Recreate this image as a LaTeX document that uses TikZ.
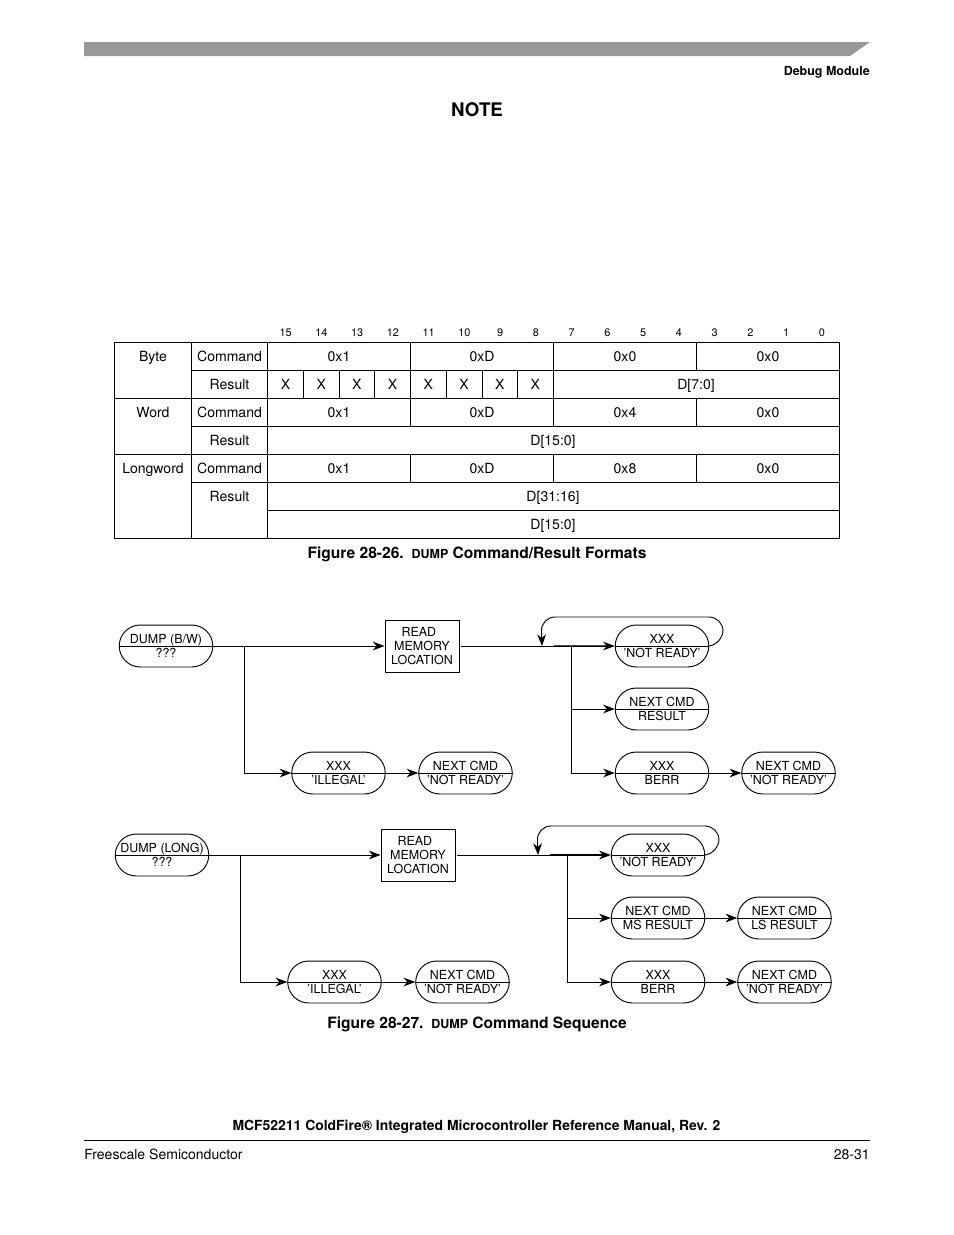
\documentclass[tikz,border=0pt]{standalone}
\usepackage{fontspec}
\setmainfont{TeX Gyre Heros}
\usetikzlibrary{arrows.meta,shapes.misc}
\tikzset{
  cell/.style={anchor=base,inner sep=0pt,font=\fontsize{9}{10.8}\selectfont},
  bitno/.style={anchor=base,inner sep=0pt,font=\fontsize{7}{8}\selectfont},
  rule/.style={line width=0.6pt,black},
  pill/.style={draw,line width=0.6pt,rounded rectangle,minimum width=60pt,minimum height=26.9pt,inner sep=0pt,align=center,font=\fontsize{8}{9.4}\selectfont},
  rbox/.style={draw,line width=0.6pt,minimum width=47.5pt,minimum height=33.4pt,inner sep=0pt,align=center,font=\fontsize{8}{9}\selectfont},
  flow/.style={line width=0.6pt,-{Stealth[length=7.5pt,width=5.6pt,inset=2.4pt]}},
  plain/.style={line width=0.6pt},
  thick2/.style={line width=1.1pt},
  capt/.style={anchor=base,inner sep=0pt,font=\fontsize{10}{12}\selectfont\bfseries},
}
\newcommand{\smdump}{{\fontsize{8}{9}\selectfont DUMP}}
\begin{document}
\begin{tikzpicture}[x=0.6415pt,y=-0.6415pt]
\useasboundingbox (0,0) rectangle (954,1235);
% header and footer
\fill[fill=black!40] (84,42) -- (870,42) -- (850,56) -- (84,56) -- cycle;
\node[anchor=base east,inner sep=0pt,font=\fontsize{8}{9}\selectfont\bfseries] (hdr) at (870,75) {Debug Module};
\node[anchor=base,inner sep=0pt,font=\fontsize{12}{14}\selectfont\bfseries] (note) at (477,116) {NOTE};
\node[anchor=base,inner sep=0pt,font=\fontsize{8.93}{11}\selectfont\bfseries] (title) at (476.5,1130) {MCF52211 ColdFire® Integrated Microcontroller Reference Manual, Rev. 2};
\draw[rule] (84,1140.5) -- (870,1140.5);
\node[anchor=base west,inner sep=0pt,font=\fontsize{9}{11}\selectfont] (fsl) at (84,1159) {Freescale Semiconductor};
\node[anchor=base east,inner sep=0pt,font=\fontsize{9}{11}\selectfont] (pg) at (870,1159) {28-31};
% bit numbers
\foreach \b [count=\i from 0] in {15,14,...,0}
  \node[bitno] (bit\b) at (285.7+35.74*\i,336) {\b};
% table rules
\draw[rule] (114,342) rectangle (839.5,538.5);
\draw[rule] (191.5,342) -- (191.5,538.5);
\draw[rule] (267.5,342) -- (267.5,538.5);
\draw[rule] (191.5,370.5) -- (839.5,370.5);
\draw[rule] (114,398.5) -- (839.5,398.5);
\draw[rule] (191.5,426.5) -- (839.5,426.5);
\draw[rule] (114,454.5) -- (839.5,454.5);
\draw[rule] (191.5,482.5) -- (839.5,482.5);
\draw[rule] (267.5,510.5) -- (839.5,510.5);
\foreach \y in {342,398.5,454.5}
  \foreach \x in {410.5,553.5,696.5}
    \draw[rule] (\x,\y) -- (\x,\y+28);
\foreach \x in {303.5,339.5,374.5,410.5,446.5,482,517.5,553.5}
  \draw[rule] (\x,370.5) -- (\x,398.5);
% table text
\node[cell] (tbyte) at (153,361) {Byte};
\node[cell] (tword) at (153,417) {Word};
\node[cell] (tlong) at (153,473) {Longword};
\foreach \y/\n in {361/a,417/b,473/c}
  \node[cell] (cmd\n) at (229.5,\y) {Command};
\foreach \y/\n in {389/a,445/b,501/c}
  \node[cell] (res\n) at (229.5,\y) {Result};
\foreach \y/\n/\v in {361/a/0,417/b/4,473/c/8}{
  \node[cell] (h1\n) at (339,\y) {0x1};
  \node[cell] (h2\n) at (482,\y) {0xD};
  \node[cell] (h3\n) at (625,\y) {0x\v};
  \node[cell] (h4\n) at (768,\y) {0x0};
}
\foreach \i in {0,...,7}
  \node[cell] (x\i) at (285.5+35.7*\i,389) {X};
\node[cell] (d70) at (696,389) {D[7:0]};
\node[cell] (d150a) at (553,445) {D[15:0]};
\node[cell] (d3116) at (553,501) {D[31:16]};
\node[cell] (d150b) at (553,529) {D[15:0]};
\node[capt] (cap1) at (477,558) {Figure 28-26.\enspace\smdump{} Command/Result Formats};
% top flow
\node[pill] (a1) at (166,646) {DUMP (B/W)\\???};
\node[rbox] (a2) at (422,646) {READ\,\,\,\\MEMORY\\LOCATION};
\node[pill] (a3) at (662,646) {XXX\\'NOT READY'};
\node[pill] (a4) at (662,709) {NEXT CMD\\RESULT};
\node[pill] (a5) at (662,773) {XXX\\BERR};
\node[pill] (a6) at (788.5,773) {NEXT CMD\\'NOT READY'};
\node[pill] (a7) at (338.5,773) {XXX\\'ILLEGAL'};
\node[pill] (a8) at (465.5,773) {NEXT CMD\\'NOT READY'};
\coordinate (aj1) at (244.5,646);
\coordinate (aj2) at (571.5,646);
\coordinate (aj3) at (542,646);
\coordinate (at1) at (608,645.5);
\draw[plain] (a1.west) -- (a1.east);
\foreach \n in {3,4,5,6,7,8}\draw[plain] (a\n.west) -- (a\n.east);
\draw[flow] (a1.east) -- (a2.west);
\draw[flow] (aj1) |- (a7.west);
\draw[flow] (a7.east) -- (a8.west);
\draw[plain] (461,646) -- (aj2);
\draw[thick2,black!70] (554,645.5) -- (at1);
\draw[flow] (aj2) -- (a3.west);
\draw[flow] (aj2) |- (a4.west);
\draw[flow] (aj2) |- (a5.west);
\draw[flow] (a5.east) -- (a6.west);
\draw[flow,rounded corners=9pt] (a3.east) -- (723,644) -- (723,617) -- (541,617) -- (aj3);
% bottom flow
\node[pill] (b1) at (162,855) {DUMP (LONG)\\???};
\node[rbox] (b2) at (418,855) {READ\,\,\,\\MEMORY\\LOCATION};
\node[pill] (b3) at (658,855) {XXX\\'NOT READY'};
\node[pill] (b4) at (658,918) {NEXT CMD\\MS RESULT};
\node[pill] (b5) at (658,982) {XXX\\BERR};
\node[pill] (b6) at (784.5,982) {NEXT CMD\\'NOT READY'};
\node[pill] (b9) at (784.5,918) {NEXT CMD\\LS RESULT};
\node[pill] (b7) at (334.5,982) {XXX\\'ILLEGAL'};
\node[pill] (b8) at (462.5,982) {NEXT CMD\\'NOT READY'};
\coordinate (bj1) at (240.5,855);
\coordinate (bj2) at (567.5,855);
\coordinate (bj3) at (538,855);
\coordinate (bt1) at (604,855.3);
\coordinate (bt2) at (570,982.5);
\coordinate (bt3) at (604,982.5);
\draw[plain] (b1.west) -- (b1.east);
\foreach \n in {3,4,5,6,7,8,9}\draw[plain] (b\n.west) -- (b\n.east);
\draw[flow] (b1.east) -- (b2.west);
\draw[flow] (bj1) |- (b7.west);
\draw[flow] (b7.east) -- (b8.west);
\draw[plain] (457,855) -- (bj2);
\draw[thick2] (550,855.3) -- (bt1);
\draw[flow] (bj2) -- (b3.west);
\draw[flow] (bj2) |- (b4.west);
\draw[flow] (bj2) |- (b5.west);
\draw[thick2] (bt2) -- (bt3);
\draw[flow] (b4.east) -- (b9.west);
\draw[flow] (b5.east) -- (b6.west);
\draw[flow,rounded corners=9pt] (b3.east) -- (719,853) -- (719,826) -- (537,826) -- (bj3);
\node[capt] (cap2) at (477,1028) {Figure 28-27.\enspace\smdump{} Command Sequence};
\end{tikzpicture}
\end{document}
